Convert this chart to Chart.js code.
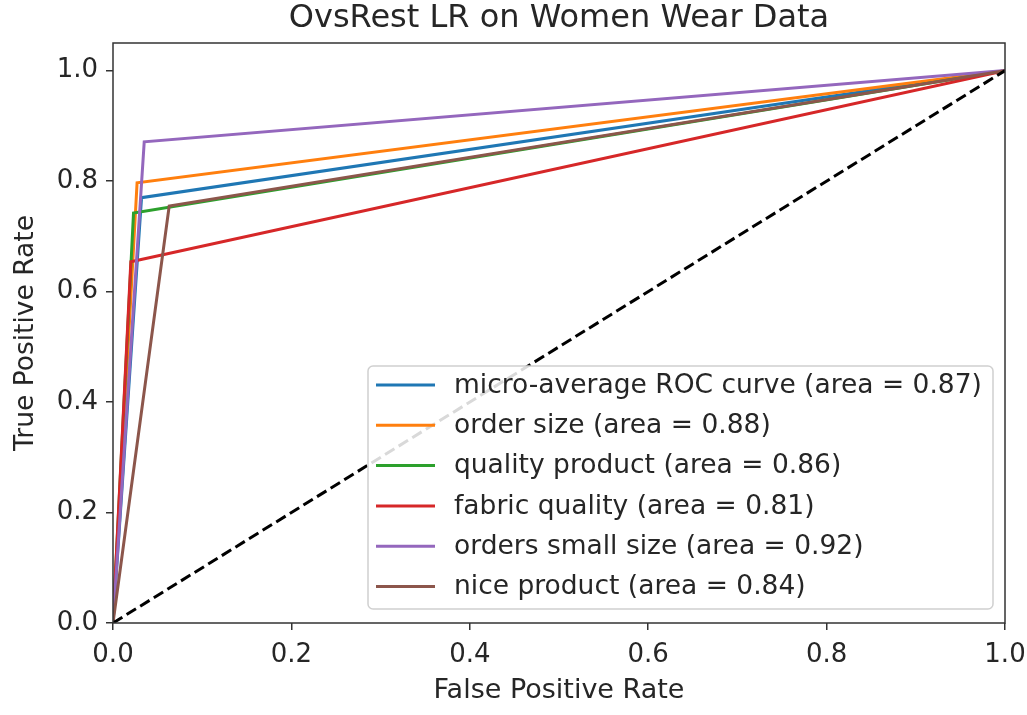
<!DOCTYPE html>
<html>
<head>
<meta charset="utf-8">
<script src="https://cdn.jsdelivr.net/npm/chart.js@4.4.1/dist/chart.umd.min.js"></script>
<style>
  html, body { margin: 0; padding: 0; background: #fff; }
  #wrap { width: 1027px; height: 715px; }
</style>
</head>
<body>
<div id="wrap"><canvas id="c" width="1027" height="715"></canvas></div>
<script>
// ---- data ----
const chartTitle = 'OvsRest LR on Women Wear Data';
const seriesLabels = [
  'micro-average ROC curve (area = 0.87)',
  'order size (area = 0.88)',
  'quality product (area = 0.86)',
  'fabric quality (area = 0.81)',
  'orders small size (area = 0.92)',
  'nice product (area = 0.84)'
];
const fprMicro   = [0, 0.032, 1];
const tprMicro   = [0, 0.770, 1];
const fprOrder   = [0, 0.027, 1];
const tprOrder   = [0, 0.797, 1];
const fprQuality = [0, 0.023, 1];
const tprQuality = [0, 0.742, 1];
const fprFabric  = [0, 0.020, 1];
const tprFabric  = [0, 0.654, 1];
const fprSmall   = [0, 0.035, 1];
const tprSmall   = [0, 0.871, 1];
const fprNice    = [0, 0.063, 1];
const tprNice    = [0, 0.755, 1];
const chanceX    = [0, 1];
const chanceY    = [0, 1];
const tickValues = [0, 0.2, 0.4, 0.6, 0.8, 1.0];

const colors = ['#1f77b4', '#ff7f0e', '#2ca02c', '#d62728', '#9467bd', '#8c564b'];
const fprs = [fprMicro, fprOrder, fprQuality, fprFabric, fprSmall, fprNice];
const tprs = [tprMicro, tprOrder, tprQuality, tprFabric, tprSmall, tprNice];

const toPts = (xs, ys) => xs.map((x, i) => ({x: x, y: ys[i]}));

const datasets = seriesLabels.map((lab, i) => ({
  label: lab,
  data: toPts(fprs[i], tprs[i]),
  borderColor: colors[i],
  backgroundColor: colors[i],
  borderWidth: 3,
  showLine: true,
  pointRadius: 0,
  fill: false,
  order: 20 - i
}));
datasets.push({
  label: 'chance',
  data: toPts(chanceX, chanceY),
  borderColor: '#000',
  borderWidth: 3,
  borderDash: [11, 5],
  showLine: true,
  pointRadius: 0,
  fill: false,
  order: 0
});

const FONT = "'DejaVu Sans', sans-serif";
const TXT = '#262626';

const framePlugin = {
  id: 'frame',
  afterDatasetsDraw(chart) {
    const {ctx, chartArea: a} = chart;
    ctx.save();
    ctx.strokeStyle = '#333';
    ctx.lineWidth = 1.5;
    ctx.strokeRect(a.left, a.top, a.right - a.left, a.bottom - a.top);
    ctx.restore();
  }
};

const titlePlugin = {
  id: 'axesTitle',
  afterDraw(chart) {
    const {ctx, chartArea: a} = chart;
    ctx.save();
    ctx.font = '32px ' + FONT;
    ctx.fillStyle = TXT;
    ctx.textAlign = 'center';
    ctx.textBaseline = 'middle';
    ctx.fillText(chartTitle, (a.left + a.right) / 2, 19);
    ctx.restore();
  }
};

const legendPlugin = {
  id: 'innerLegend',
  afterDraw(chart) {
    const ctx = chart.ctx;
    const box = {x: 368, y: 366, w: 625, h: 243, r: 5};
    ctx.save();
    ctx.beginPath();
    ctx.roundRect(box.x, box.y, box.w, box.h, box.r);
    ctx.fillStyle = 'rgba(255,255,255,0.85)';
    ctx.fill();
    ctx.strokeStyle = '#d0d0d0';
    ctx.lineWidth = 1.5;
    ctx.stroke();
    ctx.font = '26.5px ' + FONT;
    ctx.textBaseline = 'middle';
    ctx.fillStyle = TXT;
    const y0 = 385, dy = 40.3;
    chart.data.datasets.slice(0, seriesLabels.length).forEach((ds, i) => {
      const y = y0 + i * dy;
      ctx.beginPath();
      ctx.moveTo(376, y);
      ctx.lineTo(435, y);
      ctx.strokeStyle = ds.borderColor;
      ctx.lineWidth = 3;
      ctx.stroke();
      ctx.fillStyle = TXT;
      ctx.fillText(ds.label, 454, y + 1);
    });
    ctx.restore();
  }
};

new Chart(document.getElementById('c'), {
  type: 'scatter',
  data: { datasets },
  options: {
    responsive: false,
    animation: false,
    layout: { padding: { left: 0, right: 22, top: 43, bottom: 0 } },
    plugins: {
      legend: { display: false },
      tooltip: { enabled: false },
      title: { display: false }
    },
    scales: {
      x: {
        type: 'linear',
        min: 0, max: 1,
        afterFit: s => { s.height = 92; s.paddingRight = 0; s.paddingLeft = 0; },
        afterBuildTicks: s => { s.ticks = tickValues.map(v => ({value: v})); },
        ticks: { color: TXT, font: { family: FONT, size: 26 }, padding: 10,
                 callback: v => Number(v).toFixed(1), maxRotation: 0 },
        grid: { display: true, drawOnChartArea: false, drawTicks: true, tickLength: 7,
                color: '#333', lineWidth: 1.5 },
        border: { display: false },
        title: { display: true, text: 'False Positive Rate', color: TXT,
                 font: { family: FONT, size: 27 }, padding: { top: 0, bottom: 8 } }
      },
      y: {
        type: 'linear',
        min: 0, max: 1.05,
        afterFit: s => { s.width = 113; s.paddingTop = 0; s.paddingBottom = 0; },
        afterBuildTicks: s => { s.ticks = tickValues.map(v => ({value: v})); },
        ticks: { color: TXT, font: { family: FONT, size: 26 }, padding: 8,
                 callback: v => Number(v).toFixed(1) },
        grid: { display: true, drawOnChartArea: false, drawTicks: true, tickLength: 7,
                color: '#333', lineWidth: 1.5 },
        border: { display: false },
        title: { display: true, text: 'True Positive Rate', color: TXT,
                 font: { family: FONT, size: 26.5 }, padding: { top: 10, bottom: 0 } }
      }
    }
  },
  plugins: [framePlugin, legendPlugin, titlePlugin]
});
</script>
</body>
</html>
